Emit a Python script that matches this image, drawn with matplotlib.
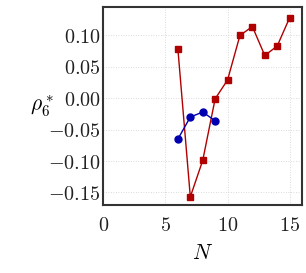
import matplotlib
matplotlib.use("Agg")
import matplotlib.pyplot as plt
from matplotlib.ticker import FuncFormatter

plt.rcParams["mathtext.fontset"] = "cm"
plt.rcParams["font.family"] = "serif"
plt.rcParams["font.serif"] = ["DejaVu Serif"]

# values
n_red = [6, 7, 8, 9, 10, 11, 12, 13, 14, 15]
rho_red = [0.078, -0.157, -0.099, -0.001, 0.029, 0.100, 0.114, 0.068, 0.083, 0.128]
n_blue = [6, 7, 8, 9]
rho_blue = [-0.065, -0.030, -0.022, -0.036]

x_ticks = [0, 5, 10, 15]
y_ticks = [-0.15, -0.10, -0.05, 0.00, 0.05, 0.10]

fig = plt.figure(figsize=(3.06, 2.73), dpi=100)
ax = fig.add_axes([0.338, 0.249, 0.649, 0.725])

ax.plot(n_red, rho_red, "-s", color="#b00000", lw=1.0, ms=4.5)
ax.plot(n_blue, rho_blue, "-o", color="#0000b0", lw=1.0, ms=5)

ax.set_xlim(0, 16)
ax.set_ylim(-0.17, 0.145)
ax.set_xticks(x_ticks)
ax.set_yticks(y_ticks)
ax.xaxis.set_major_formatter(FuncFormatter(lambda v, p: f"${v:.0f}$"))
ax.yaxis.set_major_formatter(FuncFormatter(lambda v, p: f"${v:.2f}$"))
ax.tick_params(length=0, labelsize=14.5, colors="#222222")
ax.tick_params(axis="y", pad=2)
ax.tick_params(axis="x", pad=8)
ax.grid(True, ls=(0, (1, 2)), color="#cfcfcf", lw=0.6)
for s in ax.spines.values():
    s.set_color("#333333")
    s.set_linewidth(1.5)

ax.set_xlabel("$N$", fontsize=15.5, labelpad=5)
ax.set_ylabel(r"$\rho_6^*$", fontsize=15.5, rotation=0, labelpad=4, va="center")

fig.savefig("out.png", dpi=100)
